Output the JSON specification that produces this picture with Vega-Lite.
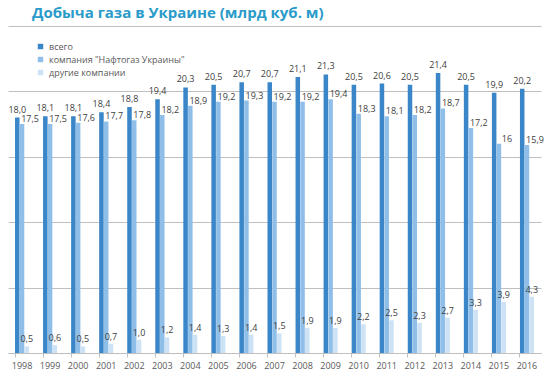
{
  "$schema": "https://vega.github.io/schema/vega-lite/v6.json",
  "width": 533,
  "height": 327,
  "padding": {"left": 8, "top": 6, "right": 0, "bottom": 0},
  "background": "white",
  "title": {
    "text": "Добыча газа в Украине (млрд куб. м)",
    "anchor": "start",
    "dx": 24,
    "offset": 5,
    "font": "Open Sans",
    "fontSize": 15,
    "fontWeight": "bold",
    "color": "#2A9BC9"
  },
  "data": {
    "values": [
      {"year": "1998", "series": "всего", "value": 18.0, "label": "18,0"},
      {"year": "1999", "series": "всего", "value": 18.1, "label": "18,1"},
      {"year": "2000", "series": "всего", "value": 18.1, "label": "18,1"},
      {"year": "2001", "series": "всего", "value": 18.4, "label": "18,4"},
      {"year": "2002", "series": "всего", "value": 18.8, "label": "18,8"},
      {"year": "2003", "series": "всего", "value": 19.4, "label": "19,4"},
      {"year": "2004", "series": "всего", "value": 20.3, "label": "20,3"},
      {"year": "2005", "series": "всего", "value": 20.5, "label": "20,5"},
      {"year": "2006", "series": "всего", "value": 20.7, "label": "20,7"},
      {"year": "2007", "series": "всего", "value": 20.7, "label": "20,7"},
      {"year": "2008", "series": "всего", "value": 21.1, "label": "21,1"},
      {"year": "2009", "series": "всего", "value": 21.3, "label": "21,3"},
      {"year": "2010", "series": "всего", "value": 20.5, "label": "20,5"},
      {"year": "2011", "series": "всего", "value": 20.6, "label": "20,6"},
      {"year": "2012", "series": "всего", "value": 20.5, "label": "20,5"},
      {"year": "2013", "series": "всего", "value": 21.4, "label": "21,4"},
      {"year": "2014", "series": "всего", "value": 20.5, "label": "20,5"},
      {"year": "2015", "series": "всего", "value": 19.9, "label": "19,9"},
      {"year": "2016", "series": "всего", "value": 20.2, "label": "20,2"},
      {"year": "1998", "series": "компания \"Нафтогаз Украины\"", "value": 17.5, "label": "17,5"},
      {"year": "1999", "series": "компания \"Нафтогаз Украины\"", "value": 17.5, "label": "17,5"},
      {"year": "2000", "series": "компания \"Нафтогаз Украины\"", "value": 17.6, "label": "17,6"},
      {"year": "2001", "series": "компания \"Нафтогаз Украины\"", "value": 17.7, "label": "17,7"},
      {"year": "2002", "series": "компания \"Нафтогаз Украины\"", "value": 17.8, "label": "17,8"},
      {"year": "2003", "series": "компания \"Нафтогаз Украины\"", "value": 18.2, "label": "18,2"},
      {"year": "2004", "series": "компания \"Нафтогаз Украины\"", "value": 18.9, "label": "18,9"},
      {"year": "2005", "series": "компания \"Нафтогаз Украины\"", "value": 19.2, "label": "19,2"},
      {"year": "2006", "series": "компания \"Нафтогаз Украины\"", "value": 19.3, "label": "19,3"},
      {"year": "2007", "series": "компания \"Нафтогаз Украины\"", "value": 19.2, "label": "19,2"},
      {"year": "2008", "series": "компания \"Нафтогаз Украины\"", "value": 19.2, "label": "19,2"},
      {"year": "2009", "series": "компания \"Нафтогаз Украины\"", "value": 19.4, "label": "19,4"},
      {"year": "2010", "series": "компания \"Нафтогаз Украины\"", "value": 18.3, "label": "18,3"},
      {"year": "2011", "series": "компания \"Нафтогаз Украины\"", "value": 18.1, "label": "18,1"},
      {"year": "2012", "series": "компания \"Нафтогаз Украины\"", "value": 18.2, "label": "18,2"},
      {"year": "2013", "series": "компания \"Нафтогаз Украины\"", "value": 18.7, "label": "18,7"},
      {"year": "2014", "series": "компания \"Нафтогаз Украины\"", "value": 17.2, "label": "17,2"},
      {"year": "2015", "series": "компания \"Нафтогаз Украины\"", "value": 16.0, "label": "16"},
      {"year": "2016", "series": "компания \"Нафтогаз Украины\"", "value": 15.9, "label": "15,9"},
      {"year": "1998", "series": "другие компании", "value": 0.5, "label": "0,5"},
      {"year": "1999", "series": "другие компании", "value": 0.6, "label": "0,6"},
      {"year": "2000", "series": "другие компании", "value": 0.5, "label": "0,5"},
      {"year": "2001", "series": "другие компании", "value": 0.7, "label": "0,7"},
      {"year": "2002", "series": "другие компании", "value": 1.0, "label": "1,0"},
      {"year": "2003", "series": "другие компании", "value": 1.2, "label": "1,2"},
      {"year": "2004", "series": "другие компании", "value": 1.4, "label": "1,4"},
      {"year": "2005", "series": "другие компании", "value": 1.3, "label": "1,3"},
      {"year": "2006", "series": "другие компании", "value": 1.4, "label": "1,4"},
      {"year": "2007", "series": "другие компании", "value": 1.5, "label": "1,5"},
      {"year": "2008", "series": "другие компании", "value": 1.9, "label": "1,9"},
      {"year": "2009", "series": "другие компании", "value": 1.9, "label": "1,9"},
      {"year": "2010", "series": "другие компании", "value": 2.2, "label": "2,2"},
      {"year": "2011", "series": "другие компании", "value": 2.5, "label": "2,5"},
      {"year": "2012", "series": "другие компании", "value": 2.3, "label": "2,3"},
      {"year": "2013", "series": "другие компании", "value": 2.7, "label": "2,7"},
      {"year": "2014", "series": "другие компании", "value": 3.3, "label": "3,3"},
      {"year": "2015", "series": "другие компании", "value": 3.9, "label": "3,9"},
      {"year": "2016", "series": "другие компании", "value": 4.3, "label": "4,3"}
    ]
  },
  "encoding": {
    "x": {
      "field": "year",
      "type": "nominal",
      "title": null,
      "scale": {"paddingInner": 0.5, "paddingOuter": 0.25},
      "axis": {
        "labelAngle": 0,
        "labelFont": "Open Sans",
        "labelFontSize": 9,
        "labelColor": "#595959",
        "labelPadding": 4,
        "domainColor": "#BFBFBF",
        "tickColor": "#BFBFBF",
        "tickSize": 4,
        "bandPosition": 0,
        "grid": false
      }
    },
    "xOffset": {
      "field": "series",
      "type": "nominal",
      "scale": {"domain": ["всего", "компания \"Нафтогаз Украины\"", "другие компании"], "paddingInner": 0.05}
    },
    "y": {
      "field": "value",
      "type": "quantitative",
      "title": null,
      "scale": {"domain": [0, 25], "nice": false},
      "axis": {
        "values": [0, 5, 10, 15, 20, 25],
        "labels": false,
        "ticks": false,
        "domain": false,
        "gridColor": "#BFBFBF",
        "gridWidth": 1
      }
    }
  },
  "layer": [
    {
      "mark": {"type": "bar"},
      "encoding": {
        "color": {
          "field": "series",
          "type": "nominal",
          "title": null,
          "scale": {
            "domain": ["всего", "компания \"Нафтогаз Украины\"", "другие компании"],
            "range": ["#3A86C8", "#8FBFE8", "#CDE2F4"]
          },
          "legend": {
            "orient": "none",
            "legendX": 28,
            "legendY": 16,
            "direction": "vertical",
            "symbolType": "square",
            "symbolSize": 30,
            "symbolStrokeWidth": 0,
            "labelFont": "Open Sans",
            "labelFontSize": 9,
            "labelColor": "#595959",
            "rowPadding": 3,
            "labelOffset": 4
          }
        }
      }
    },
    {
      "transform": [{"filter": "datum.series === 'всего'"}],
      "mark": {"type": "text", "baseline": "bottom", "dy": -3, "font": "Open Sans", "fontSize": 9, "color": "#404040"},
      "encoding": {"text": {"field": "label"}}
    },
    {
      "transform": [{"filter": "datum.series === 'компания \"Нафтогаз Украины\"'"}],
      "mark": {"type": "text", "baseline": "bottom", "dx": 8, "dy": 0, "font": "Open Sans", "fontSize": 9, "color": "#404040"},
      "encoding": {"text": {"field": "label"}}
    },
    {
      "transform": [{"filter": "datum.series === 'другие компании'"}],
      "mark": {"type": "text", "baseline": "bottom", "dy": -2, "font": "Open Sans", "fontSize": 9, "color": "#404040"},
      "encoding": {"text": {"field": "label"}}
    }
  ],
  "config": {
    "view": {"stroke": null}
  }
}
